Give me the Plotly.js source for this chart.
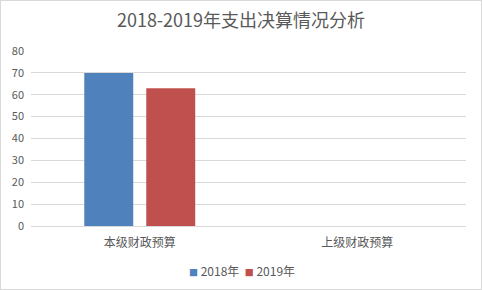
<!DOCTYPE html>
<html><head><meta charset="utf-8">
<script src="https://cdn.plot.ly/plotly-3.0.1.min.js"></script>
<style>html,body{margin:0;padding:0;background:#fff}#c{width:480px;height:288px;border:1px solid #D9D9D9}</style>
</head><body><div id="c"></div>
<script>
const categories = ['本级财政预算', '上级财政预算'];
const series2018 = [70, 0];
const series2019 = [63, 0];
const seriesNames = ['2018年', '2019年'];
const seriesColors = ['#4F81BD', '#C0504D'];
const yTicks = [0, 10, 20, 30, 40, 50, 60, 70, 80];

const font = 'Noto Sans CJK SC, Microsoft YaHei, sans-serif';
const data = [
  {type: 'bar', name: seriesNames[0], x: categories, y: series2018, marker: {color: seriesColors[0]}, hoverinfo: 'none'},
  {type: 'bar', name: seriesNames[1], x: categories, y: series2019, marker: {color: seriesColors[1]}, hoverinfo: 'none'}
];
const legendText = seriesNames.map((n, i) =>
  '<span style="color:' + seriesColors[i] + ';font-size:9px">■</span> ' + n).join('&nbsp;&nbsp;');
const layout = {
  width: 480, height: 288,
  margin: {l: 30, r: 15, t: 50, b: 63},
  paper_bgcolor: '#fff', plot_bgcolor: '#fff',
  font: {family: font, color: '#595959', size: 11},
  title: {text: '2018-2019年支出决算情况分析', font: {family: font, size: 18, color: '#595959'}, x: 0.5, xanchor: 'center', y: 0.93, yanchor: 'middle', yref: 'container'},
  barmode: 'group', bargap: 0.43, bargroupgap: 0.21,
  xaxis: {showgrid: false, showline: true, linecolor: '#D9D9D9', linewidth: 1, ticks: '', tickfont: {size: 12, color: '#595959'}, ticklabelstandoff: 6, fixedrange: true},
  yaxis: {range: [0, 80], tickvals: yTicks, showgrid: true, gridcolor: '#D9D9D9', zeroline: false, ticks: '', tickfont: {size: 11, color: '#595959'}, ticklabelstandoff: 6, fixedrange: true},
  showlegend: false,
  annotations: [{text: legendText, xref: 'paper', yref: 'paper', x: 0.485, y: -0.252, xanchor: 'center', yanchor: 'middle', showarrow: false, font: {size: 12, color: '#595959', family: font}}]
};
Plotly.newPlot('c', data, layout, {displayModeBar: false, staticPlot: true});
</script></body></html>
